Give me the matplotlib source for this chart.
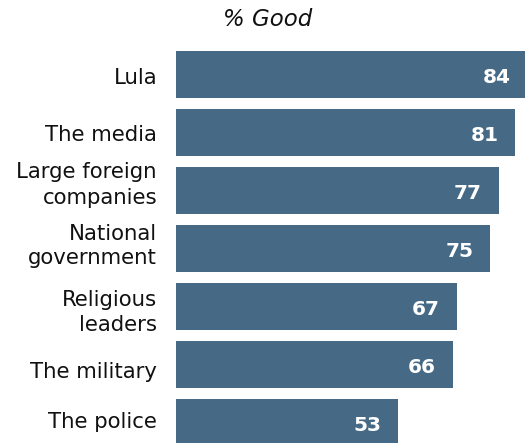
import matplotlib.pyplot as plt

categories = ["Lula", "The media", "Large foreign\ncompanies", "National\ngovernment",
              "Religious\nleaders", "The military", "The police"]
values = [84, 81, 77, 75, 67, 66, 53]

# baseline of each label line, in px below the bar centre
label_baselines = [[9.5], [8.5], [-12, 14], [-8.7, 15], [0, 24.5], [13], [5.5]]

BAR_COLOR = "#466A85"
W, H, DPI = 525, 443, 100
PX = 72.0 / DPI  # points per pixel

fig = plt.figure(figsize=(W / DPI, H / DPI), dpi=DPI)
# axes start at the bar baseline and run to the right edge
ax = fig.add_axes([176 / W, 0, (W - 176) / W, 1])

pitch = 58.0  # px between bar centres
ypos = list(range(len(categories)))
ax.barh(ypos, values, height=47 / pitch, color=BAR_COLOR, linewidth=0)

ax.set_xlim(0, (W - 176) / 4.19)
top = -74.5 / pitch
ax.set_ylim(top + H / pitch, top)
ax.set_xticks([])
ax.set_yticks([])
for s in ax.spines.values():
    s.set_visible(False)

# category labels, right aligned left of the bars, one line at a time
for y, lab, bases in zip(ypos, categories, label_baselines):
    for line, b in zip(lab.split("\n"), bases):
        ax.annotate(line, xy=(0, y), xytext=(-19 * PX, -b * PX), textcoords="offset points",
                    ha="right", va="baseline", fontsize=15.3, color="#111111",
                    annotation_clip=False)

for y, v in zip(ypos, values):
    ax.annotate(str(v), xy=(v, y), xytext=(-17 * PX, -8.5 * PX), textcoords="offset points",
                ha="right", va="baseline", color="white", fontsize=14.5,
                fontweight="bold", annotation_clip=False)

fig.text(268 / W, 1 - 20 / H, "% Good", ha="center", va="center",
         fontsize=16.5, style="italic", color="#111111")

fig.savefig("out.png", dpi=DPI)
